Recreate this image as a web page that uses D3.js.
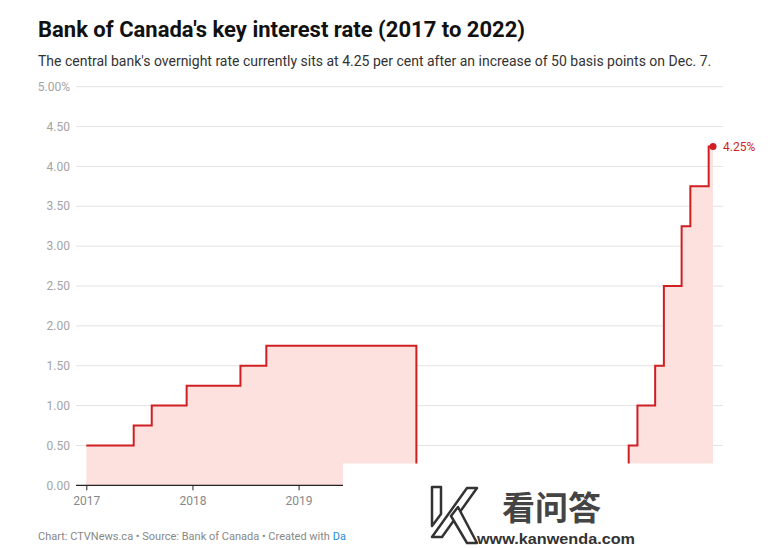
<!DOCTYPE html>
<html>
<head>
<meta charset="utf-8">
<script src="https://cdn.jsdelivr.net/npm/d3@7"></script>
<style>
  body { margin: 0; background: #fff; }
  svg { display: block; font-family: Roboto, "Noto Sans", sans-serif; }
</style>
</head>
<body>
<svg id="chart" width="777" height="548"></svg>
<script>
var dates = ["2017-01-01", "2017-06-13", "2017-08-14", "2017-12-12", "2018-06-15", "2018-09-12",
             "2020-02-10", "2022-02-09", "2022-03-11", "2022-05-11", "2022-06-10", "2022-08-10",
             "2022-09-09", "2022-11-11", "2022-11-26"];
var rates = [0.5, 0.75, 1.0, 1.25, 1.5, 1.75, 0.25, 0.5, 1.0, 1.5, 2.5, 3.25, 3.75, 4.25, 4.25];
var yTicks = [0, 0.5, 1, 1.5, 2, 2.5, 3, 3.5, 4, 4.5, 5];
// only these year labels are visible; the rest sit under the watermark
var yearTicks = ["2017", "2018", "2019"];

var parse = d3.timeParse("%Y-%m-%d");
var data = dates.map(function (d, i) { return { date: parse(d), rate: rates[i] }; });

var svg = d3.select("#chart");

var x = d3.scaleTime()
    .domain([parse("2017-01-01"), parse("2023-01-01")])
    .range([86.3, 723.5]);
var y = d3.scaleLinear().domain([0, 5]).range([485.3, 86.7]);

// titles
svg.append("text").attr("x", 38).attr("y", 37)
    .attr("font-size", 22).attr("font-weight", 700).attr("fill", "#111")
    .text("Bank of Canada's key interest rate (2017 to 2022)");
svg.append("text").attr("x", 38).attr("y", 66)
    .attr("font-size", 14).attr("fill", "#333")
    .text("The central bank's overnight rate currently sits at 4.25 per cent after an increase of 50 basis points on Dec. 7.");

// grid + y labels
var grid = svg.append("g");
grid.selectAll("line").data(yTicks.filter(function (d) { return d > 0; }))
  .enter().append("line")
    .attr("x1", 76).attr("x2", 723)
    .attr("y1", function (d) { return y(d); })
    .attr("y2", function (d) { return y(d); })
    .attr("stroke", "#e3e3e3").attr("stroke-width", 1);
grid.selectAll("text").data(yTicks)
  .enter().append("text")
    .attr("x", 70).attr("y", function (d) { return y(d); })
    .attr("dy", "0.35em").attr("text-anchor", "end")
    .attr("font-size", 12).attr("fill", "#a3a3a3")
    .text(function (d) { return d3.format(".2f")(d) + (d === 5 ? "%" : ""); });

// area + step line
var area = d3.area()
    .x(function (d) { return x(d.date); })
    .y0(y(0))
    .y1(function (d) { return y(d.rate); })
    .curve(d3.curveStepAfter);
var line = d3.line()
    .x(function (d) { return x(d.date); })
    .y(function (d) { return y(d.rate); })
    .curve(d3.curveStepAfter);

svg.append("path").datum(data).attr("d", area).attr("fill", "#fde1de");
svg.append("path").datum(data).attr("d", line)
    .attr("fill", "none").attr("stroke", "#d01f22").attr("stroke-width", 2);

// x axis
var xAxis = d3.axisBottom(x)
    .tickValues(yearTicks.map(function (d) { return parse(d + "-01-01"); }))
    .tickFormat(d3.timeFormat("%Y"))
    .tickSize(5).tickPadding(6);
var gx = svg.append("g").attr("transform", "translate(0," + y(0) + ")").call(xAxis);
gx.select(".domain").remove();
gx.append("line").attr("x1", 76).attr("x2", 723).attr("stroke", "#222").attr("stroke-width", 1.3);
gx.selectAll(".tick line").attr("stroke", "#222");
gx.selectAll(".tick text").attr("font-size", 12).attr("fill", "#888")
    .attr("font-family", "Roboto, sans-serif");

// end point + label
var last = data[data.length - 1];
svg.append("circle").attr("cx", x(last.date)).attr("cy", y(last.rate))
    .attr("r", 3.5).attr("fill", "#d01f22");
svg.append("text").attr("x", x(last.date) + 10).attr("y", y(last.rate))
    .attr("dy", "0.35em").attr("font-size", 12).attr("fill", "#d01f22")
    .text("4.25%");

// footer
var foot = svg.append("text").attr("x", 38).attr("y", 540)
    .attr("font-size", 11).attr("fill", "#888");
foot.append("tspan").text("Chart: CTVNews.ca \u2022 Source: Bank of Canada \u2022 Created with ");
foot.append("tspan").attr("fill", "#1d8dd1").text("Da");

// watermark pasted over the lower right of the picture
var wm = svg.append("g");
wm.append("rect").attr("x", 343).attr("y", 463.5).attr("width", 434).attr("height", 56).attr("fill", "#fff");
wm.append("rect").attr("x", 353).attr("y", 519).attr("width", 424).attr("height", 29).attr("fill", "#fff");
var kShapes = [
  [[432, 487], [441, 487], [441, 514], [432, 526]],
  [[432, 537], [442, 537], [477, 488], [467, 488]],
  [[451, 516], [458, 507], [477, 543], [467, 543]]
];
wm.selectAll("polygon").data(kShapes).enter().append("polygon")
    .attr("points", function (d) { return d.join(" "); })
    .attr("fill", "#fff").attr("stroke", "#333").attr("stroke-width", 2.5)
    .attr("stroke-linejoin", "round");
wm.append("text").attr("x", 502).attr("y", 520)
    .attr("font-family", "'Noto Sans CJK SC', sans-serif").attr("font-weight", 700)
    .attr("font-size", 33).attr("fill", "#444").text("看问答");
wm.append("text").attr("x", 477).attr("y", 544)
    .attr("font-family", "'Liberation Sans', Arial, sans-serif").attr("font-weight", 700)
    .attr("font-size", 14).attr("fill", "#333")
    .attr("textLength", 158).attr("lengthAdjust", "spacingAndGlyphs")
    .text("www.kanwenda.com");
</script>
</body>
</html>
